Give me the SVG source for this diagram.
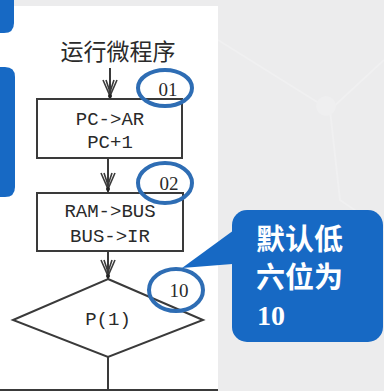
<svg xmlns="http://www.w3.org/2000/svg" width="384" height="391" viewBox="0 0 384 391">
<defs>
<style>
.box{fill:none;stroke:#3a3a3a;stroke-width:2}
.line{fill:none;stroke:#3a3a3a;stroke-width:2}
.head{fill:none;stroke:#3a3a3a;stroke-width:1.6}
.mono{font-family:"Liberation Mono","DejaVu Sans Mono",monospace;font-size:19px;fill:#2a2a2a;text-anchor:middle}
.cn{font-family:"Noto Sans CJK SC",sans-serif;font-size:23px;fill:#2a2a2a;text-anchor:middle}
.ring{fill:none;stroke:#2e6db4;stroke-width:4}
.lbl{font-family:"Liberation Serif",serif;font-size:19px;fill:#2a2a2a;text-anchor:middle}
.call{font-family:"Noto Sans CJK SC",sans-serif;font-size:29px;font-weight:bold;fill:#ffffff}
</style>
</defs>
<rect x="0" y="0" width="384" height="391" fill="#ececed"/>
<g opacity="0.4" stroke="#f6f6f7" stroke-width="2" fill="none">
<path d="M218 40 L330 110 L384 60"/>
<path d="M330 110 L340 200 L384 230"/>
<circle cx="326" cy="106" r="10" fill="#f4f4f5" stroke="none"/>
</g>
<rect x="0" y="6" width="218" height="385" fill="#ffffff"/>
<path d="M0 0 H14 V23 Q14 33 4 33 H0 Z" fill="#1769c4"/>
<path d="M0 67 H5 Q15 67 15 77 V187 Q15 197 5 197 H0 Z" fill="#1769c4"/>
<g id="connectors">
<line class="line" x1="110" y1="68" x2="110" y2="99"/>
<path class="head" d="M103 80 L110 96 L117 80 M106 80 L110 92 L114 80"/>
<circle cx="110" cy="96" r="2" fill="#222"/>
<line class="line" x1="108" y1="158" x2="108" y2="193"/>
<path class="head" d="M101 173 L108 189 L115 173 M104 173 L108 185 L112 173"/>
<circle cx="108" cy="189" r="2" fill="#222"/>
<line class="line" x1="108" y1="251" x2="108" y2="279"/>
<path class="head" d="M101 260 L108 276 L115 260 M104 260 L108 272 L112 260"/>
<circle cx="108" cy="276" r="2" fill="#222"/>
<line class="line" x1="108" y1="357" x2="108" y2="390"/>
<line class="line" x1="0" y1="390" x2="218" y2="390"/>
</g>
<g id="start">
<text class="cn" x="118" y="60">运行微程序</text>
</g>
<g id="box1">
<rect class="box" x="37" y="99" width="145" height="59"/>
<text class="mono" x="110" y="125">PC-&gt;AR</text>
<text class="mono" x="110" y="148">PC+1</text>
</g>
<g id="box2">
<rect class="box" x="37" y="193" width="146" height="58"/>
<text class="mono" x="110" y="217">RAM-&gt;BUS</text>
<text class="mono" x="110" y="242">BUS-&gt;IR</text>
</g>
<g id="decision">
<polygon class="box" points="108,279 203,320 108,357 13,320"/>
<text class="mono" x="108" y="325">P(1)</text>
</g>
<g id="tag01">
<ellipse class="ring" cx="165" cy="88" rx="27" ry="18"/>
<text class="lbl" x="168" y="96">01</text>
</g>
<g id="tag02">
<ellipse class="ring" cx="165" cy="183" rx="27" ry="20"/>
<text class="lbl" x="169" y="190">02</text>
</g>
<g id="tag10">
<ellipse class="ring" cx="176" cy="290" rx="27" ry="21"/>
<text class="lbl" x="179" y="297">10</text>
</g>
<g id="callout">
<polygon points="245,222 182,268 245,263" fill="#1769c4"/>
<rect x="232" y="210" width="151" height="132" rx="15" fill="#1769c4"/>
<text class="call" x="256" y="250">默认低</text>
<text class="call" x="256" y="288">六位为</text>
<text x="257" y="325" font-family="Liberation Serif,serif" font-size="28" font-weight="bold" fill="#ffffff">10</text>
</g>
</svg>
